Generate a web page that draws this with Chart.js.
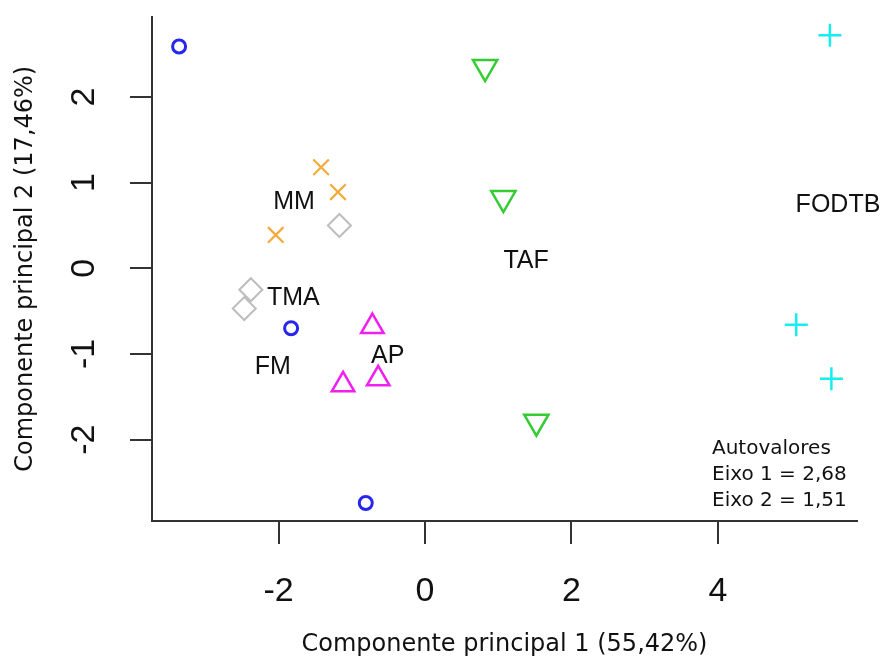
<!DOCTYPE html>
<html>
<head>
<meta charset="utf-8">
<script src="https://cdn.jsdelivr.net/npm/chart.js@4.4.0/dist/chart.umd.min.js"></script>
<style>
  body { margin: 0; background: #fff; }
  canvas { display: block; }
</style>
</head>
<body>
<canvas id="myChart" width="884" height="666"></canvas>
<script>
// Scores des deux premières composantes
const grupoFM    = [[-3.36, 2.59], [-1.83, -0.70], [-0.81, -2.74]];
const grupoMM    = [[-1.42, 1.18], [-1.19, 0.89], [-2.04, 0.39]];
const grupoTMA   = [[-1.17, 0.50], [-2.38, -0.25], [-2.47, -0.47]];
const grupoAP    = [[-0.72, -0.68], [-1.12, -1.36], [-0.64, -1.29]];
const grupoTAF   = [[0.82, 2.35], [1.07, 0.82], [1.52, -1.79]];
const grupoFODTB = [[5.53, 2.72], [5.07, -0.66], [5.55, -1.29]];

// Etiquettes des groupes : [texte, x, y]
const rotulos = [
  ['MM', -1.79, 0.77],
  ['TMA', -1.80, -0.35],
  ['FM', -2.08, -1.15],
  ['AP', -0.51, -1.03],
  ['TAF', 1.38, 0.08],
  ['FODTB', 5.64, 0.74]
];

const xTicks = [-2, 0, 2, 4];
const yTicks = [-2, -1, 0, 1, 2];
const autovalores = ['Autovalores', 'Eixo 1 = 2,68', 'Eixo 2 = 1,51'];

const toPts = (arr) => arr.map(p => ({ x: p[0], y: p[1] }));

// Textes posés sur le graphe
const textPlugin = {
  id: 'textos',
  afterDatasetsDraw(chart) {
    const ctx = chart.ctx;
    const xs = chart.scales.x;
    const ys = chart.scales.y;
    ctx.save();
    ctx.fillStyle = '#111';
    ctx.font = '25px "Liberation Sans", Arial, sans-serif';
    ctx.textAlign = 'center';
    ctx.textBaseline = 'middle';
    rotulos.forEach(r => {
      ctx.fillText(r[0], xs.getPixelForValue(r[1]), ys.getPixelForValue(r[2]));
    });
    // Encadré des valeurs propres
    ctx.font = '20px "DejaVu Sans", sans-serif';
    ctx.textAlign = 'left';
    const ca = chart.chartArea;
    autovalores.forEach((t, i) => {
      ctx.fillText(t, ca.right - 145, ca.bottom - 72 + i * 26);
    });
    ctx.restore();
  }
};

const ctx = document.getElementById('myChart').getContext('2d');

const myChart = new Chart(ctx, {
  type: 'scatter',
  data: {
    datasets: [
      { label: 'FM', data: toPts(grupoFM), pointStyle: 'circle', radius: 6.5, borderColor: '#2626ee', borderWidth: 3 },
      { label: 'MM', data: toPts(grupoMM), pointStyle: 'crossRot', radius: 11, borderColor: '#f5aa3a', borderWidth: 2.2 },
      { label: 'TMA', data: toPts(grupoTMA), pointStyle: 'rectRot', radius: 11.5, borderColor: '#bdbdbd', borderWidth: 2 },
      { label: 'AP', data: toPts(grupoAP), pointStyle: 'triangle', radius: 13, borderColor: '#f020f0', borderWidth: 2.5 },
      { label: 'TAF', data: toPts(grupoTAF), pointStyle: 'triangle', rotation: 180, radius: 14, borderColor: '#33cc33', borderWidth: 2.5 },
      { label: 'FODTB', data: toPts(grupoFODTB), pointStyle: 'cross', radius: 11.5, borderColor: '#14eeee', borderWidth: 2.5 }
    ].map(d => Object.assign({ backgroundColor: 'rgba(0,0,0,0)', hoverRadius: d.radius }, d))
  },
  options: {
    responsive: false,
    animation: false,
    layout: { padding: { top: 9, right: 27, left: 0, bottom: 0 } },
    plugins: {
      legend: { display: false },
      tooltip: { enabled: false }
    },
    scales: {
      x: {
        type: 'linear',
        min: -3.73,
        max: 5.90,
        afterBuildTicks: (scale) => { scale.ticks = xTicks.map(v => ({ value: v })); },
        afterFit: (scale) => { scale.height = 145; scale.paddingLeft = 0; scale.paddingRight = 0; },
        grid: { drawOnChartArea: false, drawTicks: true, tickLength: 23, color: '#333', lineWidth: 2 },
        border: { display: true, color: '#333', width: 2 },
        ticks: { color: '#111', font: { size: 34, family: '"Liberation Sans", Arial, sans-serif' }, padding: 27, maxRotation: 0 },
        title: {
          display: true,
          text: 'Componente principal 1 (55,42%)',
          color: '#111',
          font: { size: 24, family: '"DejaVu Sans", sans-serif' },
          padding: { top: 0, bottom: 7 }
        }
      },
      y: {
        type: 'linear',
        min: -2.95,
        max: 2.94,
        afterBuildTicks: (scale) => { scale.ticks = yTicks.map(v => ({ value: v })); },
        afterFit: (scale) => { scale.width = 152; scale.paddingTop = 0; scale.paddingBottom = 0; },
        grid: { drawOnChartArea: false, drawTicks: true, tickLength: 22, color: '#333', lineWidth: 2 },
        border: { display: true, color: '#333', width: 2 },
        ticks: { color: '#111', font: { size: 34, family: '"Liberation Sans", Arial, sans-serif' }, padding: 30, minRotation: 90, maxRotation: 90, crossAlign: 'center' },
        title: {
          display: true,
          text: 'Componente principal 2 (17,46%)',
          color: '#111',
          font: { size: 24, family: '"DejaVu Sans", sans-serif' },
          padding: { top: 11, bottom: 0 }
        }
      }
    }
  },
  plugins: [textPlugin]
});
</script>
</body>
</html>
